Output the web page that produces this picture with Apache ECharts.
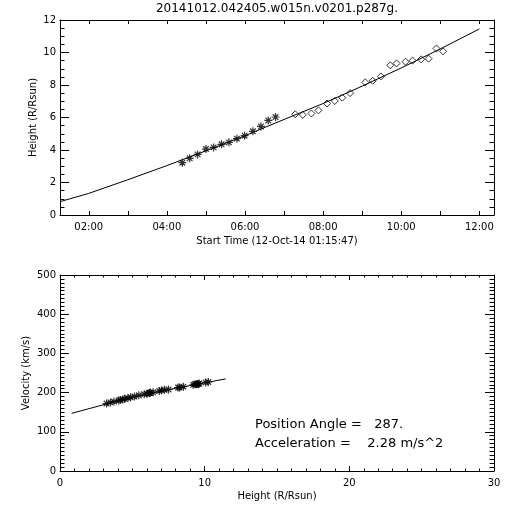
<!DOCTYPE html>
<html>
<head>
<meta charset="utf-8">
<script src="https://cdn.jsdelivr.net/npm/echarts@6/dist/echarts.min.js"></script>
<style>html,body{margin:0;padding:0;background:#fff;}#c{width:512px;height:512px;}</style>
</head>
<body>
<div id="c"></div>
<script>
// ---- data (hours of 12-Oct-2014, heights in R/Rsun, velocities in km/s) ----
var titleText = '20141012.042405.w015n.v0201.p287g.';
var starT = [4.396, 4.583, 4.788, 5.000, 5.197, 5.400, 5.588, 5.793, 5.990, 6.202, 6.407, 6.596, 6.783];
var starH = [3.22, 3.49, 3.73, 4.06, 4.16, 4.35, 4.47, 4.70, 4.88, 5.15, 5.45, 5.82, 6.03];
var diamT = [7.286, 7.480, 7.700, 7.880, 8.100, 8.300, 8.490, 8.690, 9.080, 9.270, 9.480, 9.720, 9.880, 10.110, 10.290, 10.510, 10.700, 10.900, 11.070];
var diamH = [6.20, 6.16, 6.25, 6.44, 6.86, 7.02, 7.22, 7.50, 8.16, 8.26, 8.53, 9.21, 9.33, 9.43, 9.50, 9.58, 9.62, 10.25, 10.07];
var fitT = [1.263, 2, 3, 4, 5, 6, 7, 8, 9, 10, 11, 12];
var fitH = [0.82, 1.33, 2.17, 3.04, 3.95, 4.88, 5.88, 6.86, 7.93, 9.05, 10.22, 11.45];
var velH = [3.22, 3.49, 3.73, 4.06, 4.16, 4.35, 4.47, 4.70, 4.88, 5.15, 5.45, 5.82, 6.03,
            6.20, 6.16, 6.25, 6.44, 6.86, 7.02, 7.22, 7.50, 8.16, 8.26, 8.53, 9.21, 9.33, 9.43, 9.50, 9.58, 9.62, 10.25, 10.07];
var velV = [172, 175, 177, 180, 181, 183, 184, 186, 188, 190, 193, 196, 197,
            199, 199, 200, 201, 204, 206, 207, 208, 213, 213, 215, 220, 221, 221, 222, 222, 223, 227, 226];
var velFitH = [0.8, 2, 4, 6, 8, 10, 11.45];
var velFitV = [147, 159, 179, 196, 211, 225, 235];
var hourTicks = [2, 3, 4, 5, 6, 7, 8, 9, 10, 11, 12];
var labelHours = [2, 4, 6, 8, 10, 12];
var timeLabels = ['02:00', '04:00', '06:00', '08:00', '10:00', '12:00'];
var tStart = 1.26306; // 01:15:47
var tEnd = 12.375;
var annotation1 = 'Position Angle =   287.';
var annotation2 = 'Acceleration =    2.28 m/s^2';

var FONT = '"DejaVu Sans", "Liberation Sans", sans-serif';
var black = '#000';
function pairs(a, b) { return a.map(function (v, i) { return [v, b[i]]; }); }

var asterisk = 'path://M5,0L5,10M0,5L10,5M1.5,1.5L8.5,8.5M1.5,8.5L8.5,1.5';

function baseAxis(extra) {
  var o = {
    type: 'value',
    axisLine: { show: true, onZero: false, lineStyle: { color: black, width: 1 } },
    splitLine: { show: false },
    nameMoveOverlap: false,
    axisLabel: { color: black, fontSize: 10, fontFamily: FONT },
    nameTextStyle: { color: black, fontSize: 10, fontFamily: FONT }
  };
  for (var k in extra) o[k] = extra[k];
  return o;
}

var chart = echarts.init(document.getElementById('c'), null, { renderer: 'canvas' });
var option = {
  animation: false,
  backgroundColor: '#fff',
  grid: [
    { left: 60, top: 20, width: 434, height: 195 },
    { left: 60, top: 275, width: 434, height: 196 }
  ],
  xAxis: [
    baseAxis({
      gridIndex: 0, position: 'bottom', min: tStart, max: tEnd,
      axisTick: { show: true, inside: true, length: 4, customValues: hourTicks, lineStyle: { color: black } },
      axisLabel: { color: black, fontSize: 10, fontFamily: FONT, margin: 7, customValues: labelHours,
        formatter: function (v) { var i = labelHours.indexOf(Math.round(v)); return i >= 0 ? timeLabels[i] : ''; } },
      name: 'Start Time (12-Oct-14 01:15:47)', nameLocation: 'middle', nameGap: 21
    }),
    baseAxis({
      gridIndex: 0, position: 'top', min: tStart, max: tEnd,
      axisTick: { show: true, inside: true, length: 4, customValues: hourTicks, lineStyle: { color: black } },
      axisLabel: { show: false }
    }),
    baseAxis({
      gridIndex: 1, position: 'bottom', min: 0, max: 30, interval: 10,
      axisTick: { show: true, inside: true, length: 5, lineStyle: { color: black } },
      minorTick: { show: true, splitNumber: 10, length: 2.5, lineStyle: { color: black } },
      axisLabel: { color: black, fontSize: 10, fontFamily: FONT, margin: 7 },
      name: 'Height (R/Rsun)', nameLocation: 'middle', nameGap: 20
    }),
    baseAxis({
      gridIndex: 1, position: 'top', min: 0, max: 30, interval: 10,
      axisTick: { show: true, inside: true, length: 5, lineStyle: { color: black } },
      minorTick: { show: true, splitNumber: 10, length: 2.5, lineStyle: { color: black } },
      axisLabel: { show: false }
    })
  ],
  yAxis: [
    baseAxis({
      gridIndex: 0, position: 'left', min: 0, max: 12, interval: 2,
      axisTick: { show: true, inside: true, length: 9, lineStyle: { color: black } },
      minorTick: { show: true, splitNumber: 4, length: 4.5, lineStyle: { color: black } },
      axisLabel: { color: black, fontSize: 10, fontFamily: FONT, margin: 4 },
      name: 'Height (R/Rsun)', nameLocation: 'middle', nameGap: 22, nameRotate: 90
    }),
    baseAxis({
      gridIndex: 0, position: 'right', min: 0, max: 12, interval: 2,
      axisTick: { show: true, inside: true, length: 9, lineStyle: { color: black } },
      minorTick: { show: true, splitNumber: 4, length: 4.5, lineStyle: { color: black } },
      axisLabel: { show: false }
    }),
    baseAxis({
      gridIndex: 1, position: 'left', min: 0, max: 500, interval: 100,
      axisTick: { show: true, inside: true, length: 9, lineStyle: { color: black } },
      minorTick: { show: true, splitNumber: 10, length: 4.5, lineStyle: { color: black } },
      axisLabel: { color: black, fontSize: 10, fontFamily: FONT, margin: 4 },
      name: 'Velocity (km/s)', nameLocation: 'middle', nameGap: 29, nameRotate: 90
    }),
    baseAxis({
      gridIndex: 1, position: 'right', min: 0, max: 500, interval: 100,
      axisTick: { show: true, inside: true, length: 9, lineStyle: { color: black } },
      minorTick: { show: true, splitNumber: 10, length: 4.5, lineStyle: { color: black } },
      axisLabel: { show: false }
    })
  ],
  series: [
    { type: 'line', xAxisIndex: 0, yAxisIndex: 0, data: pairs(fitT, fitH), symbol: 'none',
      lineStyle: { color: black, width: 1 }, z: 2 },
    { type: 'scatter', xAxisIndex: 0, yAxisIndex: 0, data: pairs(starT, starH), symbol: asterisk, symbolSize: 8,
      itemStyle: { color: 'transparent', borderColor: black, borderWidth: 1.2 }, z: 3 },
    { type: 'scatter', xAxisIndex: 0, yAxisIndex: 0, data: pairs(diamT, diamH), symbol: 'diamond', symbolSize: 7,
      itemStyle: { color: 'transparent', borderColor: black, borderWidth: 1 }, z: 3 },
    { type: 'line', xAxisIndex: 2, yAxisIndex: 2, data: pairs(velFitH, velFitV), symbol: 'none',
      lineStyle: { color: black, width: 1 }, z: 2 },
    { type: 'scatter', xAxisIndex: 2, yAxisIndex: 2, data: pairs(velH, velV), symbol: asterisk, symbolSize: 8,
      itemStyle: { color: 'transparent', borderColor: black, borderWidth: 1.2 }, z: 3 }
  ],
  graphic: [
    { type: 'text', x: 277, y: 9, style: { text: titleText, fill: black, fontSize: 12, fontFamily: FONT, align: 'center', verticalAlign: 'middle' } },
    { type: 'text', x: 255, y: 425, style: { text: annotation1, fill: black, fontSize: 13, fontFamily: FONT, align: 'left', verticalAlign: 'middle' } },
    { type: 'text', x: 255, y: 444, style: { text: annotation2, fill: black, fontSize: 13, fontFamily: FONT, align: 'left', verticalAlign: 'middle' } }
  ]
};
chart.setOption(option);
</script>
</body>
</html>
